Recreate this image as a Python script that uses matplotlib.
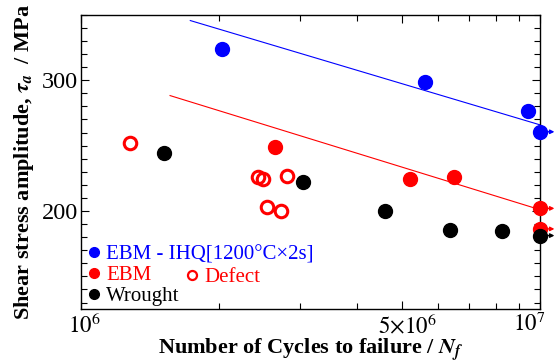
import numpy as np
import matplotlib.pyplot as plt
import matplotlib.transforms as mtransforms
from matplotlib.lines import Line2D
from matplotlib.ticker import FixedLocator, NullFormatter, MultipleLocator

plt.rcParams['font.family'] = ['Liberation Serif', 'DejaVu Serif']
plt.rcParams['mathtext.fontset'] = 'stix'

# data (cycles to failure, shear stress amplitude in MPa)
ihq_n = [2.03e6, 5.62e6, 9.42e6]
ihq_s = [324, 299, 276.5]
ihq_runout_n = [1e7]
ihq_runout_s = [260.6]

ebm_n = [2.65e6, 5.21e6, 6.5e6]
ebm_s = [249.2, 224.2, 225.8]
ebm_runout_n = [1e7, 1e7]
ebm_runout_s = [202, 186.3]

defect_n = [1.28e6, 2.43e6, 2.49e6, 2.81e6, 2.54e6, 2.73e6]
defect_s = [252.3, 225.8, 224.2, 226.5, 203, 200]

wrought_n = [1.52e6, 3.05e6, 4.6e6, 6.37e6, 8.25e6]
wrought_s = [244.7, 222, 200, 185.8, 184.5]
wrought_runout_n = [1e7]
wrought_runout_s = [181.2]

ihq_fit_n = [1.73e6, 1e7]
ihq_fit_s = [345.7, 265.9]
ebm_fit_n = [1.563e6, 1e7]
ebm_fit_s = [288.3, 201]

x_ticks = [1e6, 5e6, 1e7]
x_ticklabels = ['$10^6$', r'$5{\times}10^6$', '$10^7$']

blue = '#0000ff'
red = '#ff0000'
black = '#000000'

fig = plt.figure(figsize=(5.55, 3.64), dpi=100)
ax = fig.add_axes([0.146, 0.151, 0.827, 0.808])

ax.plot(ihq_fit_n, ihq_fit_s, color=blue, lw=0.8)
ax.plot(ebm_fit_n, ebm_fit_s, color=red, lw=0.8)

ms = 10
ax.plot(ihq_n + ihq_runout_n, ihq_s + ihq_runout_s, 'o', color=blue, ms=ms, clip_on=False, zorder=3)
ax.plot(ebm_n + ebm_runout_n, ebm_s + ebm_runout_s, 'o', color=red, ms=ms, clip_on=False, zorder=3)
ax.plot(defect_n, defect_s, 'o', mfc='none', mec=red, mew=2.2, ms=9, zorder=3)
ax.plot(wrought_n + wrought_runout_n, wrought_s + wrought_runout_s, 'o', color=black, ms=ms, clip_on=False, zorder=4)

# runout arrows
for xs, ys, c in [(ihq_runout_n, ihq_runout_s, blue), (ebm_runout_n, ebm_runout_s, red),
                  (wrought_runout_n, wrought_runout_s, black)]:
    for x, y in zip(xs, ys):
        ax.annotate('', xy=(x * 1.075, y), xytext=(x, y),
                    arrowprops=dict(arrowstyle='-|>', color=c, lw=1, mutation_scale=6,
                                    shrinkA=0, shrinkB=0),
                    annotation_clip=False, zorder=2)

ax.set_xscale('log')
ax.set_xlim(1e6, 1e7)
ax.set_ylim(125, 350)
ax.xaxis.set_major_locator(FixedLocator(x_ticks))
ax.set_xticklabels(x_ticklabels)
ax.xaxis.set_minor_locator(FixedLocator([2e6, 3e6, 4e6, 6e6, 7e6, 8e6, 9e6]))
ax.xaxis.set_minor_formatter(NullFormatter())
ax.yaxis.set_major_locator(FixedLocator([200, 300]))
ax.yaxis.set_minor_locator(MultipleLocator(10))

ax.tick_params(which='both', direction='in', top=True, right=True, width=0.8)
ax.tick_params(which='major', length=6)
ax.tick_params(which='minor', length=4)
ax.tick_params(axis='x', pad=3, labelsize=16.5)
ax.tick_params(axis='y', pad=2, labelsize=17.5)
for s in ax.spines.values():
    s.set_linewidth(1)

# nudge the x tick labels like in the original
for lab, dx in zip(ax.get_xticklabels(), [3, 6, -11]):
    lab.set_transform(lab.get_transform() + mtransforms.ScaledTranslation(dx / 100, 0, fig.dpi_scale_trans))

ax.set_xlabel(r'Number of Cycles to failure / $\mathbfit{N}_{\mathbfit{f}}$', fontsize=16,
              fontweight='bold', labelpad=-1)
ax.set_ylabel(r'Shear stress amplitude, $\mathbfit{\tau}_{\mathbfit{a}}$  / MPa', fontsize=16,
              fontweight='bold', labelpad=4)

h1 = Line2D([], [], marker='o', ls='none', color=blue, ms=7)
h2 = Line2D([], [], marker='o', ls='none', color=red, ms=7)
h3 = Line2D([], [], marker='o', ls='none', color=black, ms=7)
leg = ax.legend([h1, h2, h3], ['EBM - IHQ[1200°C×2s]', 'EBM', 'Wrought'],
                loc='lower left', frameon=False, fontsize=15, handletextpad=0.15,
                handlelength=0.9, borderaxespad=0.05, labelspacing=0.05,
                labelcolor=[blue, red, black], borderpad=0.1)
ax.add_artist(leg)
h4 = Line2D([], [], marker='o', ls='none', mfc='none', mec=red, mew=1.6, ms=6.5)
ax.legend([h4], ['Defect'], loc='lower left', bbox_to_anchor=(0.222, 0.075), frameon=False,
          fontsize=15, handletextpad=0.15, handlelength=0.9, borderaxespad=0,
          labelcolor=[red], borderpad=0)

fig.savefig('out.png', dpi=100)
